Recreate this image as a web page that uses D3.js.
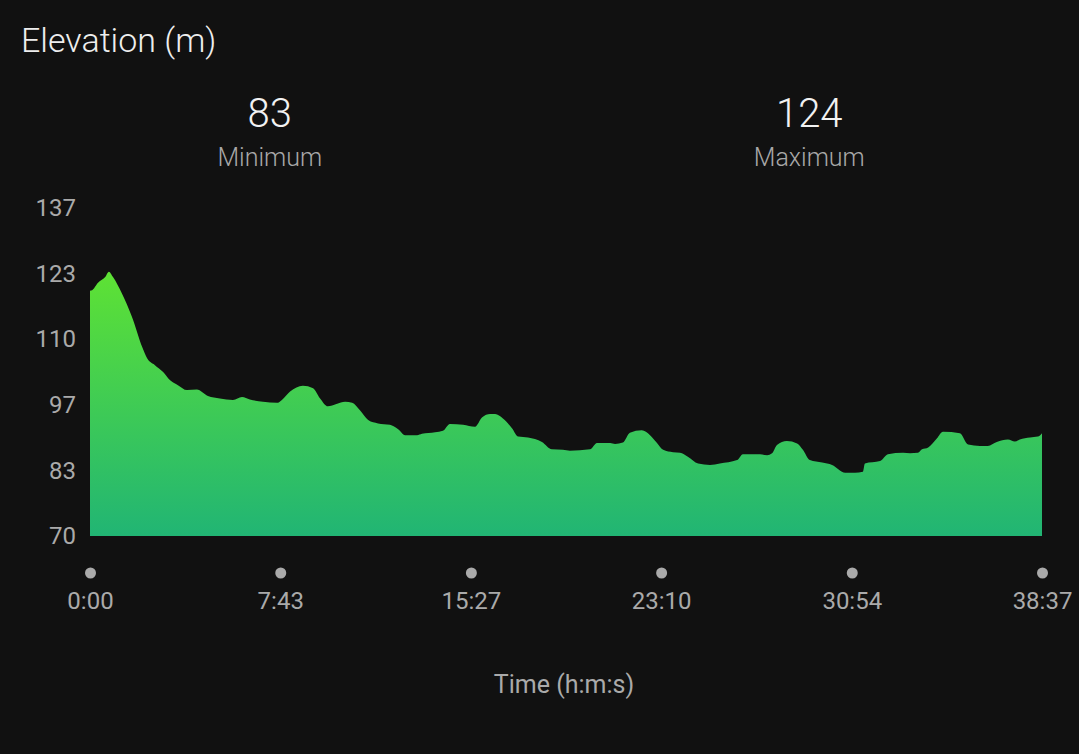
<!DOCTYPE html>
<html>
<head>
<meta charset="utf-8">
<script src="https://cdn.jsdelivr.net/npm/d3@7"></script>
<style>
  body { margin: 0; background: #111111; }
  svg { display: block; font-family: Roboto, "Noto Sans", sans-serif; }
</style>
</head>
<body>
<div id="chart"></div>
<script>
// elevation profile: seconds from start, metres
const times = [0, 5, 19, 37, 46, 56, 78, 102, 127, 139, 158, 178, 195, 214, 236, 260, 287, 316, 348, 370,
  389, 421, 455, 467, 487, 518, 543, 560, 579, 621, 638, 657, 677, 701, 730, 750, 767, 796, 808, 840,
  859, 876, 908, 937, 954, 974, 986, 1005, 1027, 1042, 1066, 1100, 1124, 1151, 1168, 1217, 1234, 1266, 1278, 1297,
  1314, 1343, 1363, 1380, 1395, 1419, 1436, 1455, 1480, 1509, 1533, 1575, 1589, 1631, 1648, 1660, 1672, 1696, 1721, 1735,
  1752, 1782, 1806, 1838, 1862, 1881, 1886, 1923, 1942, 1979, 1996, 2015, 2025, 2040, 2061, 2076, 2117, 2137, 2166, 2185,
  2207, 2234, 2251, 2263, 2288, 2307, 2317];
const elevation = [120.1, 120.2, 121.7, 122.9, 124.0, 122.9, 119.5, 114.8, 108.6, 106.3, 104.9, 103.5, 101.8, 100.8, 99.8, 99.9, 98.6, 98.1, 97.8, 98.4,
  97.9, 97.4, 97.2, 97.8, 99.5, 100.7, 100.2, 98.1, 96.5, 97.4, 97.2, 95.7, 93.7, 93.0, 92.7, 91.8, 90.6, 90.6, 90.9, 91.2,
  91.5, 92.9, 92.7, 92.3, 94.2, 94.9, 94.9, 94.0, 92.0, 90.3, 90.1, 89.2, 87.7, 87.6, 87.4, 87.7, 89.0, 89.0, 88.8, 89.1,
  91.1, 91.6, 90.6, 89.0, 87.6, 87.1, 87.0, 86.2, 84.8, 84.5, 84.8, 85.5, 86.7, 86.7, 86.5, 86.9, 88.6, 89.4, 88.9, 87.6,
  85.5, 85.0, 84.5, 82.9, 82.9, 83.1, 84.8, 85.3, 86.7, 87.0, 86.9, 87.0, 87.7, 88.1, 89.9, 91.3, 91.0, 88.7, 88.4, 88.4,
  89.2, 89.7, 89.3, 89.7, 90.1, 90.3, 91.0];

const yTicks = [70, 83.4, 96.8, 110.2, 123.6, 137];
const yTickLabels = ["70", "83", "97", "110", "123", "137"];
const xTicks = [0, 463, 927, 1390, 1854, 2317];
const xTickLabels = ["0:00", "7:43", "15:27", "23:10", "30:54", "38:37"];
const stats = [{value: "83", label: "Minimum"}, {value: "124", label: "Maximum"}];

const data = times.map((t, i) => ({t: t, e: elevation[i]}));

const W = 1079, H = 754;
const margin = {top: 208, right: 37, bottom: 218, left: 90};
const width = W - margin.left - margin.right;
const height = H - margin.top - margin.bottom;

const svg = d3.select("#chart").append("svg")
    .attr("width", W)
    .attr("height", H);

svg.append("rect").attr("width", W).attr("height", H).attr("fill", "#111111");

const x = d3.scaleLinear().domain([0, 2317]).range([0, width]);
const y = d3.scaleLinear().domain([70, 137]).range([height, 0]);

// gradient for the area (in the plot group's coordinates)
const defs = svg.append("defs");
const grad = defs.append("linearGradient")
    .attr("id", "elevGrad")
    .attr("gradientUnits", "userSpaceOnUse")
    .attr("x1", 0).attr("x2", 0)
    .attr("y1", y(d3.max(elevation))).attr("y2", height);
grad.append("stop").attr("offset", "0%").attr("stop-color", "#5ee234");
grad.append("stop").attr("offset", "100%").attr("stop-color", "#21b574");

// title
svg.append("text")
    .attr("x", 21).attr("y", 52)
    .attr("fill", "#eeeeee")
    .style("font-size", "34px")
    .style("font-weight", 300)
    .text("Elevation (m)");

// min / max header
const statG = svg.selectAll("g.stat").data(stats).enter().append("g")
    .attr("class", "stat")
    .attr("transform", (d, i) => `translate(${W * (i * 2 + 1) / 4},0)`);
statG.append("text")
    .attr("y", 127)
    .attr("text-anchor", "middle")
    .attr("fill", "#f2f2f2")
    .style("font-size", "40px")
    .style("font-weight", 300)
    .text(d => d.value);
statG.append("text")
    .attr("y", 166)
    .attr("text-anchor", "middle")
    .attr("fill", "#a8a8a8")
    .style("font-size", "25px")
    .style("font-weight", 300)
    .text(d => d.label);

const g = svg.append("g").attr("transform", `translate(${margin.left},${margin.top})`);

const area = d3.area()
    .x(d => x(d.t))
    .y0(height)
    .y1(d => y(d.e))
    .curve(d3.curveMonotoneX);

g.append("path")
    .datum(data)
    .attr("d", area)
    .attr("fill", "url(#elevGrad)");

// y axis labels
const yAxis = g.append("g")
    .call(d3.axisLeft(y).tickValues(yTicks).tickSize(0).tickPadding(14)
        .tickFormat((d, i) => yTickLabels[i]));
yAxis.select(".domain").remove();
yAxis.selectAll("text")
    .attr("fill", "#aaaaaa")
    .style("font-size", "24px")
    .style("font-family", "Roboto, sans-serif");

// x axis: dots + labels
const xAxis = g.append("g")
    .attr("transform", `translate(0,${height})`)
    .call(d3.axisBottom(x).tickValues(xTicks).tickSize(0).tickPadding(56)
        .tickFormat((d, i) => xTickLabels[i]));
xAxis.select(".domain").remove();
xAxis.selectAll("text")
    .attr("fill", "#aaaaaa")
    .style("font-size", "24px")
    .style("font-family", "Roboto, sans-serif");
xAxis.selectAll(".tick").append("circle")
    .attr("cy", 37)
    .attr("r", 5.5)
    .attr("fill", "#aaaaaa");

// x axis title
svg.append("text")
    .attr("x", 564).attr("y", 693)
    .attr("text-anchor", "middle")
    .attr("fill", "#aaaaaa")
    .style("font-size", "25px")
    .text("Time (h:m:s)");
</script>
</body>
</html>
